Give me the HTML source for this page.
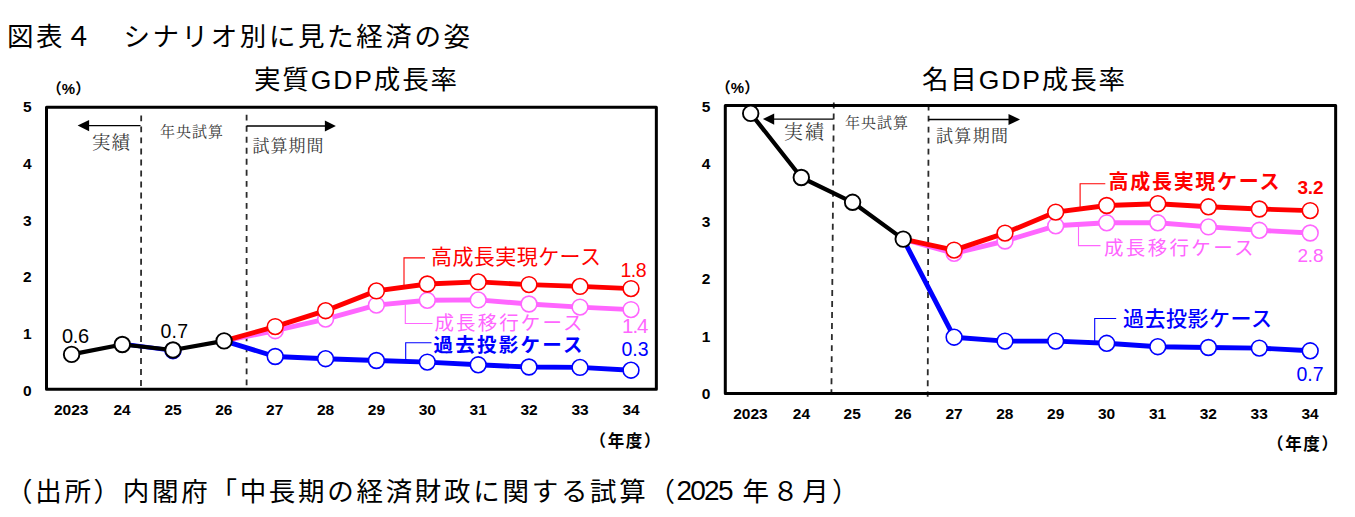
<!DOCTYPE html>
<html lang="ja"><head><meta charset="utf-8"><title>図表４ シナリオ別に見た経済の姿</title>
<style>
html,body{margin:0;padding:0;background:#fff;}
body{width:1355px;height:517px;overflow:hidden;font-family:"Liberation Sans",sans-serif;}
svg{display:block;}
svg text{font-family:"Liberation Sans","Noto Sans CJK JP",sans-serif;}
svg text.mincho{font-family:"Liberation Serif","Noto Serif CJK SC",serif;}
</style></head><body>
<svg width="1355" height="517" viewBox="0 0 1355 517" role="img" aria-label="図表４ シナリオ別に見た経済の姿">
<desc>図表４ シナリオ別に見た経済の姿。実質GDP成長率（%）・名目GDP成長率（%）、2023〜34年度。実績／年央試算／試算期間。高成長実現ケース 1.8 / 3.2、成長移行ケース 1.4 / 2.8、過去投影ケース 0.3 / 0.7。（出所）内閣府「中長期の経済財政に関する試算（2025 年８月）</desc>
<text x="7" y="46" font-size="26.5" fill="#000" textLength="463">図表４　シナリオ別に見た経済の姿</text>
<text x="6" y="501" font-size="26.5" fill="#000" textLength="669">（出所）内閣府「中長期の経済財政に関する試算（</text>
<text x="676.5" y="500.05" font-size="28" fill="#000" textLength="57">2025</text>
<text x="742.5" y="501" font-size="26.5" fill="#000" textLength="116">年８月）</text>
<text x="254" y="88.65" font-size="26.5" fill="#000" textLength="203">実質GDP成長率</text>
<text x="922" y="88.65" font-size="26.5" fill="#000" textLength="203">名目GDP成長率</text>
<line x1="141.20" y1="115.40" x2="141.00" y2="385.90" stroke="#2b2b2b" stroke-width="1.8" stroke-dasharray="5.9 5.13"/>
<line x1="246.60" y1="114.70" x2="246.60" y2="385.60" stroke="#2b2b2b" stroke-width="1.8" stroke-dasharray="5.9 5.13"/>
<line x1="833.80" y1="102.50" x2="831.40" y2="394.50" stroke="#2b2b2b" stroke-width="1.8" stroke-dasharray="5.9 5.13"/>
<line x1="928.60" y1="104.60" x2="927.70" y2="396.70" stroke="#2b2b2b" stroke-width="1.8" stroke-dasharray="5.9 5.13"/>
<polyline points="404.00,286.50 404.00,257.90 425.00,257.90" fill="none" stroke="#ff0000" stroke-width="1.1"/>
<polyline points="405.30,304.50 405.30,323.50 432.50,323.50" fill="none" stroke="#ff66ff" stroke-width="1.1"/>
<polyline points="405.70,361.00 405.70,342.80 431.50,342.80" fill="none" stroke="#0000ff" stroke-width="1.1"/>
<text x="431" y="264.3" font-size="21" fill="#ff0000" textLength="170">高成長実現ケース</text>
<text x="434.5" y="330" font-size="19.5" fill="#ff66ff" textLength="148">成長移行ケース</text>
<text x="433.5" y="351.6" font-size="19.5" font-weight="bold" fill="#0000ff" textLength="149">過去投影ケース</text>
<text x="620.5" y="276.7" font-size="19.5" fill="#ff0000" textLength="26">1.8</text>
<text x="622" y="333.4" font-size="20.5" fill="#ff66ff" textLength="26.5">1.4</text>
<text x="621.5" y="356.4" font-size="19.5" fill="#0000ff" textLength="27">0.3</text>
<text x="62" y="343.3" font-size="20" fill="#000000" textLength="27">0.6</text>
<text x="160.5" y="338.2" font-size="19.5" fill="#000000" textLength="27.5">0.7</text>
<polyline points="1080.10,208.40 1080.10,183.80 1105.30,183.80" fill="none" stroke="#ff0000" stroke-width="1.1"/>
<polyline points="1078.50,224.80 1078.50,245.60 1100.50,245.60" fill="none" stroke="#ff66ff" stroke-width="1.1"/>
<polyline points="1094.70,341.00 1094.70,318.50 1116.20,318.50" fill="none" stroke="#0000ff" stroke-width="1.1"/>
<text x="1108.5" y="189.2" font-size="20" font-weight="bold" fill="#ff0000" textLength="171">高成長実現ケース</text>
<text x="1104" y="255" font-size="19.5" fill="#ff66ff" textLength="149.5">成長移行ケース</text>
<text x="1123" y="326.2" font-size="21" font-weight="500" fill="#0000ff" textLength="149">過去投影ケース</text>
<text x="1297.5" y="194.03" font-size="19" font-weight="bold" fill="#ff0000" textLength="26">3.2</text>
<text x="1297.5" y="261.76" font-size="19" fill="#ff66ff" textLength="26">2.8</text>
<text x="1296.5" y="380.6" font-size="19.5" fill="#0000ff" textLength="27">0.7</text>
<polyline points="224.1,340.9 275.2,330.7 325.6,319.1 376.4,305.1 427.3,300.3 478.2,299.9 529.0,304.0 580.0,307.1 631.0,309.6" fill="none" stroke="#ff66ff" stroke-width="4.90" stroke-linejoin="round" stroke-linecap="round"/>
<circle cx="275.2" cy="330.7" r="7.90" fill="#fff" stroke="#ff66ff" stroke-width="1.60"/>
<circle cx="325.6" cy="319.1" r="7.90" fill="#fff" stroke="#ff66ff" stroke-width="1.60"/>
<circle cx="376.4" cy="305.1" r="7.90" fill="#fff" stroke="#ff66ff" stroke-width="1.60"/>
<circle cx="427.3" cy="300.3" r="7.90" fill="#fff" stroke="#ff66ff" stroke-width="1.60"/>
<circle cx="478.2" cy="299.9" r="7.90" fill="#fff" stroke="#ff66ff" stroke-width="1.60"/>
<circle cx="529.0" cy="304.0" r="7.90" fill="#fff" stroke="#ff66ff" stroke-width="1.60"/>
<circle cx="580.0" cy="307.1" r="7.90" fill="#fff" stroke="#ff66ff" stroke-width="1.60"/>
<circle cx="631.0" cy="309.6" r="7.90" fill="#fff" stroke="#ff66ff" stroke-width="1.60"/>
<polyline points="224.1,340.9 275.2,356.5 325.6,358.7 376.4,360.5 427.3,362.1 478.2,364.8 529.0,367.0 580.0,367.4 631.0,370.2" fill="none" stroke="#0000ff" stroke-width="4.90" stroke-linejoin="round" stroke-linecap="round"/>
<circle cx="275.2" cy="356.5" r="7.90" fill="#fff" stroke="#0000ff" stroke-width="1.60"/>
<circle cx="325.6" cy="358.7" r="7.90" fill="#fff" stroke="#0000ff" stroke-width="1.60"/>
<circle cx="376.4" cy="360.5" r="7.90" fill="#fff" stroke="#0000ff" stroke-width="1.60"/>
<circle cx="427.3" cy="362.1" r="7.90" fill="#fff" stroke="#0000ff" stroke-width="1.60"/>
<circle cx="478.2" cy="364.8" r="7.90" fill="#fff" stroke="#0000ff" stroke-width="1.60"/>
<circle cx="529.0" cy="367.0" r="7.90" fill="#fff" stroke="#0000ff" stroke-width="1.60"/>
<circle cx="580.0" cy="367.4" r="7.90" fill="#fff" stroke="#0000ff" stroke-width="1.60"/>
<circle cx="631.0" cy="370.2" r="7.90" fill="#fff" stroke="#0000ff" stroke-width="1.60"/>
<polyline points="224.1,340.9 275.2,326.6 325.6,310.7 376.4,290.9 427.3,284.0 478.2,281.9 529.0,284.6 580.0,286.4 631.0,288.6" fill="none" stroke="#ff0000" stroke-width="4.90" stroke-linejoin="round" stroke-linecap="round"/>
<circle cx="275.2" cy="326.6" r="7.90" fill="#fff" stroke="#ff0000" stroke-width="1.60"/>
<circle cx="325.6" cy="310.7" r="7.90" fill="#fff" stroke="#ff0000" stroke-width="1.60"/>
<circle cx="376.4" cy="290.9" r="7.90" fill="#fff" stroke="#ff0000" stroke-width="1.60"/>
<circle cx="427.3" cy="284.0" r="7.90" fill="#fff" stroke="#ff0000" stroke-width="1.60"/>
<circle cx="478.2" cy="281.9" r="7.90" fill="#fff" stroke="#ff0000" stroke-width="1.60"/>
<circle cx="529.0" cy="284.6" r="7.90" fill="#fff" stroke="#ff0000" stroke-width="1.60"/>
<circle cx="580.0" cy="286.4" r="7.90" fill="#fff" stroke="#ff0000" stroke-width="1.60"/>
<circle cx="631.0" cy="288.6" r="7.90" fill="#fff" stroke="#ff0000" stroke-width="1.60"/>
<polyline points="128.3,344.6 173.0,350.6" fill="none" stroke="#0000ff" stroke-width="4.40" stroke-linejoin="round" stroke-linecap="round"/>
<circle cx="173.0" cy="350.7" r="7.90" fill="#fff" stroke="#0000ff" stroke-width="1.60"/>
<polyline points="71.6,354.4 122.3,344.5 173.0,350.0 224.1,340.9" fill="none" stroke="#000000" stroke-width="4.20" stroke-linejoin="round" stroke-linecap="round"/>
<circle cx="71.6" cy="354.4" r="7.75" fill="#fff" stroke="#000000" stroke-width="1.90"/>
<circle cx="122.3" cy="344.5" r="7.75" fill="#fff" stroke="#000000" stroke-width="1.90"/>
<circle cx="173.0" cy="350.0" r="7.75" fill="#fff" stroke="#000000" stroke-width="1.90"/>
<circle cx="224.1" cy="340.9" r="7.75" fill="#fff" stroke="#000000" stroke-width="1.90"/>
<rect x="46.50" y="107.15" width="609.85" height="282.20" fill="none" stroke="#000" stroke-width="3.00" stroke-linejoin="round"/>
<polyline points="903.2,239.1 954.1,253.3 1005.0,241.0 1055.7,225.8 1106.7,222.8 1157.8,222.8 1208.4,226.9 1259.3,230.3 1310.2,233.0" fill="none" stroke="#ff66ff" stroke-width="4.90" stroke-linejoin="round" stroke-linecap="round"/>
<circle cx="954.1" cy="253.3" r="7.90" fill="#fff" stroke="#ff66ff" stroke-width="1.60"/>
<circle cx="1005.0" cy="241.0" r="7.90" fill="#fff" stroke="#ff66ff" stroke-width="1.60"/>
<circle cx="1055.7" cy="225.8" r="7.90" fill="#fff" stroke="#ff66ff" stroke-width="1.60"/>
<circle cx="1106.7" cy="222.8" r="7.90" fill="#fff" stroke="#ff66ff" stroke-width="1.60"/>
<circle cx="1157.8" cy="222.8" r="7.90" fill="#fff" stroke="#ff66ff" stroke-width="1.60"/>
<circle cx="1208.4" cy="226.9" r="7.90" fill="#fff" stroke="#ff66ff" stroke-width="1.60"/>
<circle cx="1259.3" cy="230.3" r="7.90" fill="#fff" stroke="#ff66ff" stroke-width="1.60"/>
<circle cx="1310.2" cy="233.0" r="7.90" fill="#fff" stroke="#ff66ff" stroke-width="1.60"/>
<polyline points="903.2,239.1 954.1,337.2 1005.0,341.1 1055.7,341.1 1106.7,343.3 1157.8,346.7 1208.4,347.5 1259.3,348.1 1310.2,350.8" fill="none" stroke="#0000ff" stroke-width="4.90" stroke-linejoin="round" stroke-linecap="round"/>
<circle cx="954.1" cy="337.2" r="7.90" fill="#fff" stroke="#0000ff" stroke-width="1.60"/>
<circle cx="1005.0" cy="341.1" r="7.90" fill="#fff" stroke="#0000ff" stroke-width="1.60"/>
<circle cx="1055.7" cy="341.1" r="7.90" fill="#fff" stroke="#0000ff" stroke-width="1.60"/>
<circle cx="1106.7" cy="343.3" r="7.90" fill="#fff" stroke="#0000ff" stroke-width="1.60"/>
<circle cx="1157.8" cy="346.7" r="7.90" fill="#fff" stroke="#0000ff" stroke-width="1.60"/>
<circle cx="1208.4" cy="347.5" r="7.90" fill="#fff" stroke="#0000ff" stroke-width="1.60"/>
<circle cx="1259.3" cy="348.1" r="7.90" fill="#fff" stroke="#0000ff" stroke-width="1.60"/>
<circle cx="1310.2" cy="350.8" r="7.90" fill="#fff" stroke="#0000ff" stroke-width="1.60"/>
<polyline points="903.2,239.1 954.1,250.1 1005.0,233.1 1055.7,212.1 1106.7,205.5 1157.8,203.7 1208.4,206.8 1259.3,209.0 1310.2,210.6" fill="none" stroke="#ff0000" stroke-width="4.90" stroke-linejoin="round" stroke-linecap="round"/>
<circle cx="954.1" cy="250.1" r="7.90" fill="#fff" stroke="#ff0000" stroke-width="1.60"/>
<circle cx="1005.0" cy="233.1" r="7.90" fill="#fff" stroke="#ff0000" stroke-width="1.60"/>
<circle cx="1055.7" cy="212.1" r="7.90" fill="#fff" stroke="#ff0000" stroke-width="1.60"/>
<circle cx="1106.7" cy="205.5" r="7.90" fill="#fff" stroke="#ff0000" stroke-width="1.60"/>
<circle cx="1157.8" cy="203.7" r="7.90" fill="#fff" stroke="#ff0000" stroke-width="1.60"/>
<circle cx="1208.4" cy="206.8" r="7.90" fill="#fff" stroke="#ff0000" stroke-width="1.60"/>
<circle cx="1259.3" cy="209.0" r="7.90" fill="#fff" stroke="#ff0000" stroke-width="1.60"/>
<circle cx="1310.2" cy="210.6" r="7.90" fill="#fff" stroke="#ff0000" stroke-width="1.60"/>
<rect x="725.30" y="105.40" width="610.35" height="288.05" fill="none" stroke="#000" stroke-width="3.00" stroke-linejoin="round"/>
<polyline points="750.7,113.4 801.3,177.5 852.6,202.3 903.2,239.1" fill="none" stroke="#000000" stroke-width="4.20" stroke-linejoin="round" stroke-linecap="round"/>
<circle cx="750.7" cy="113.4" r="7.75" fill="#fff" stroke="#000000" stroke-width="1.90"/>
<circle cx="801.3" cy="177.5" r="7.75" fill="#fff" stroke="#000000" stroke-width="1.90"/>
<circle cx="852.6" cy="202.3" r="7.75" fill="#fff" stroke="#000000" stroke-width="1.90"/>
<circle cx="903.2" cy="239.1" r="7.75" fill="#fff" stroke="#000000" stroke-width="1.90"/>
<line x1="88.60" y1="125.60" x2="140.50" y2="125.60" stroke="#000" stroke-width="1.4"/>
<polygon points="77.60,125.60 89.10,119.90 89.10,131.30" fill="#000"/>
<line x1="246.60" y1="126.00" x2="325.40" y2="126.00" stroke="#000" stroke-width="1.4"/>
<polygon points="335.90,126.00 324.90,120.40 324.90,131.60" fill="#000"/>
<text class="mincho" x="92" y="148.5" font-size="18.5" fill="#3a3a3a" textLength="38">実績</text>
<text class="mincho" x="160" y="137" font-size="15" fill="#3a3a3a" textLength="63">年央試算</text>
<text class="mincho" x="252.5" y="152" font-size="17" fill="#3a3a3a" textLength="71">試算期間</text>
<text x="68.5" y="94" font-size="15" font-weight="bold" fill="#000000" text-anchor="middle">（%）</text>
<text x="23" y="112.3" font-size="15.5" font-weight="bold" fill="#000000">5</text>
<text x="23" y="169.14" font-size="15.5" font-weight="bold" fill="#000000">4</text>
<text x="23" y="225.6" font-size="15.5" font-weight="bold" fill="#000000">3</text>
<text x="23" y="282.42" font-size="15.5" font-weight="bold" fill="#000000">2</text>
<text x="23" y="339.06" font-size="15.5" font-weight="bold" fill="#000000">1</text>
<text x="23" y="395.5" font-size="15.5" font-weight="bold" fill="#000000">0</text>
<text x="71.2" y="414.67" font-size="15.5" font-weight="bold" fill="#000000" text-anchor="middle">2023</text>
<text x="122.1" y="414.67" font-size="15.5" font-weight="bold" fill="#000000" text-anchor="middle">24</text>
<text x="173" y="414.67" font-size="15.5" font-weight="bold" fill="#000000" text-anchor="middle">25</text>
<text x="223.8" y="414.67" font-size="15.5" font-weight="bold" fill="#000000" text-anchor="middle">26</text>
<text x="274.7" y="414.67" font-size="15.5" font-weight="bold" fill="#000000" text-anchor="middle">27</text>
<text x="325.5" y="414.67" font-size="15.5" font-weight="bold" fill="#000000" text-anchor="middle">28</text>
<text x="376.4" y="414.67" font-size="15.5" font-weight="bold" fill="#000000" text-anchor="middle">29</text>
<text x="427.3" y="414.67" font-size="15.5" font-weight="bold" fill="#000000" text-anchor="middle">30</text>
<text x="478.2" y="414.67" font-size="15.5" font-weight="bold" fill="#000000" text-anchor="middle">31</text>
<text x="529" y="414.67" font-size="15.5" font-weight="bold" fill="#000000" text-anchor="middle">32</text>
<text x="580" y="414.67" font-size="15.5" font-weight="bold" fill="#000000" text-anchor="middle">33</text>
<text x="631" y="414.67" font-size="15.5" font-weight="bold" fill="#000000" text-anchor="middle">34</text>
<text x="589.5" y="446.5" font-size="16.5" font-weight="bold" fill="#000000" textLength="71">（年度）</text>
<line x1="773.70" y1="119.10" x2="833.30" y2="119.10" stroke="#000" stroke-width="1.4"/>
<polygon points="762.90,119.10 774.20,113.50 774.20,124.70" fill="#000"/>
<line x1="928.60" y1="119.50" x2="1009.00" y2="119.50" stroke="#000" stroke-width="1.4"/>
<polygon points="1020.00,119.50 1008.50,113.90 1008.50,125.10" fill="#000"/>
<text class="mincho" x="784" y="138.7" font-size="19" fill="#3a3a3a" textLength="40">実績</text>
<text class="mincho" x="845" y="127.6" font-size="15" fill="#3a3a3a" textLength="63">年央試算</text>
<text class="mincho" x="936" y="141.7" font-size="17" fill="#3a3a3a" textLength="72">試算期間</text>
<text x="737.5" y="92.55" font-size="15" font-weight="bold" fill="#000000" text-anchor="middle">（%）</text>
<text x="701.7" y="111.6" font-size="15.5" font-weight="bold" fill="#000000">5</text>
<text x="701.7" y="169.35" font-size="15.5" font-weight="bold" fill="#000000">4</text>
<text x="701.7" y="226.7" font-size="15.5" font-weight="bold" fill="#000000">3</text>
<text x="701.7" y="284.45" font-size="15.5" font-weight="bold" fill="#000000">2</text>
<text x="701.7" y="342" font-size="15.5" font-weight="bold" fill="#000000">1</text>
<text x="701.7" y="399.35" font-size="15.5" font-weight="bold" fill="#000000">0</text>
<text x="750.5" y="418.57" font-size="15.5" font-weight="bold" fill="#000000" text-anchor="middle">2023</text>
<text x="801.4" y="418.57" font-size="15.5" font-weight="bold" fill="#000000" text-anchor="middle">24</text>
<text x="852.2" y="418.57" font-size="15.5" font-weight="bold" fill="#000000" text-anchor="middle">25</text>
<text x="903.1" y="418.57" font-size="15.5" font-weight="bold" fill="#000000" text-anchor="middle">26</text>
<text x="954" y="418.57" font-size="15.5" font-weight="bold" fill="#000000" text-anchor="middle">27</text>
<text x="1004.8" y="418.57" font-size="15.5" font-weight="bold" fill="#000000" text-anchor="middle">28</text>
<text x="1055.7" y="418.57" font-size="15.5" font-weight="bold" fill="#000000" text-anchor="middle">29</text>
<text x="1106.6" y="418.57" font-size="15.5" font-weight="bold" fill="#000000" text-anchor="middle">30</text>
<text x="1157.5" y="418.57" font-size="15.5" font-weight="bold" fill="#000000" text-anchor="middle">31</text>
<text x="1208.3" y="418.57" font-size="15.5" font-weight="bold" fill="#000000" text-anchor="middle">32</text>
<text x="1259.2" y="418.57" font-size="15.5" font-weight="bold" fill="#000000" text-anchor="middle">33</text>
<text x="1310" y="418.57" font-size="15.5" font-weight="bold" fill="#000000" text-anchor="middle">34</text>
<text x="1267" y="449.5" font-size="16.5" font-weight="bold" fill="#000000" textLength="71">（年度）</text>
</svg>
</body></html>
